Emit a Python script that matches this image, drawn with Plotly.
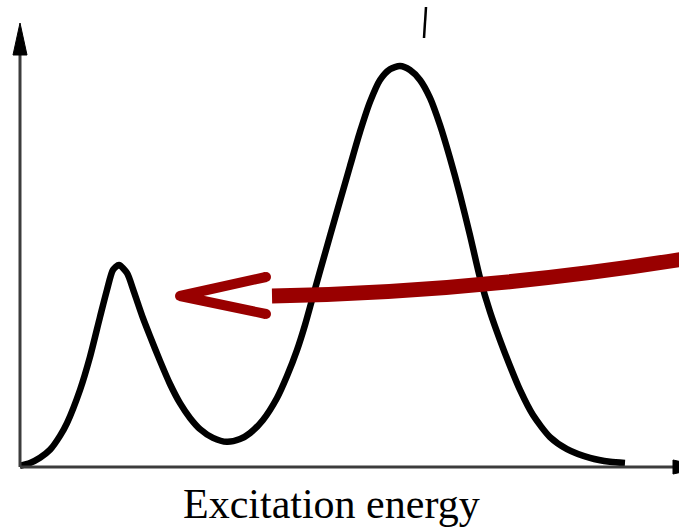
import plotly.graph_objects as go

# Spectrum samples: excitation energy (arb. units) vs. intensity (normalised to the main peak)
energy = [0.00, 0.10, 0.20, 0.30, 0.40, 0.47, 0.60, 0.70, 0.80, 0.87, 0.93, 0.99,
          1.07, 1.13, 1.18, 1.23, 1.30, 1.40, 1.50, 1.60, 1.70, 1.80, 1.93, 2.07,
          2.20, 2.30, 2.43, 2.57, 2.67, 2.77, 2.85, 2.92, 3.00, 3.10, 3.20, 3.30,
          3.40, 3.50, 3.60, 3.70, 3.80, 3.90, 4.00, 4.10, 4.20, 4.30, 4.40, 4.50,
          4.60, 4.70, 4.80, 4.90, 5.00, 5.13, 5.30, 5.47, 5.70, 5.90, 6.05]
intensity = [0.003, 0.010, 0.023, 0.043, 0.078, 0.110, 0.193, 0.276, 0.376, 0.444, 0.494, 0.506,
             0.486, 0.446, 0.409, 0.373, 0.328, 0.266, 0.208, 0.160, 0.123, 0.095, 0.073, 0.063,
             0.070, 0.085, 0.118, 0.173, 0.228, 0.293, 0.356, 0.419, 0.491, 0.579, 0.667, 0.754,
             0.840, 0.915, 0.970, 0.997, 1.005, 0.995, 0.970, 0.925, 0.857, 0.774, 0.682, 0.581,
             0.474, 0.389, 0.318, 0.253, 0.193, 0.130, 0.075, 0.045, 0.023, 0.013, 0.010]

x_label = "Excitation energy"

W, H = 679, 527
X_RANGE = [-0.20, 6.59]
Y_RANGE = [-0.1504, 1.1704]


def px(xp):
    """figure pixel column -> x data value"""
    return X_RANGE[0] + xp / W * (X_RANGE[1] - X_RANGE[0])


def py(yp):
    """figure pixel row (from top) -> y data value"""
    return Y_RANGE[1] - yp / H * (Y_RANGE[1] - Y_RANGE[0])


RED = "#990000"
AXIS = "#3c3c3c"

fig = go.Figure()

fig.add_trace(go.Scatter(
    x=energy, y=intensity, mode="lines",
    line=dict(color="black", width=6.5, shape="spline", smoothing=0.7),
    hoverinfo="skip",
))

# open chevron head of the red pointer
chev_x = [px(266), px(180), px(266)]
chev_y = [py(277), py(296), py(314)]
fig.add_trace(go.Scatter(
    x=chev_x, y=chev_y, mode="lines+markers",
    line=dict(color=RED, width=10),
    marker=dict(color=RED, size=10),
    hoverinfo="skip",
))

shapes = []
# axes
shapes.append(dict(type="line", xref="x", yref="y", x0=0, y0=0, x1=0, y1=py(50),
                   line=dict(color=AXIS, width=3)))
shapes.append(dict(type="line", xref="x", yref="y", x0=0, y0=0, x1=X_RANGE[1], y1=0,
                   line=dict(color=AXIS, width=3)))
# arrowheads
shapes.append(dict(type="path", xref="x", yref="y",
                   path=f"M {px(13)},{py(55)} L {px(20)},{py(23)} L {px(27)},{py(55)} Z",
                   fillcolor="black", line=dict(color="black", width=1)))
shapes.append(dict(type="path", xref="x", yref="y",
                   path=f"M {px(673)},{py(460)} L {px(705)},{py(467)} L {px(673)},{py(474)} Z",
                   fillcolor="black", line=dict(color="black", width=1)))
# thick curved red shaft
shapes.append(dict(type="path", xref="x", yref="y",
                   path=f"M {px(272)},{py(296)} Q {px(480)},{py(292)} {px(690)},{py(258)}",
                   line=dict(color=RED, width=15)))
# small tick stroke at the top
shapes.append(dict(type="line", xref="x", yref="y", x0=px(426), y0=py(7), x1=px(424), y1=py(38),
                   line=dict(color="black", width=2.5)))

fig.update_layout(
    width=W, height=H,
    margin=dict(l=0, r=0, t=0, b=0),
    paper_bgcolor="white", plot_bgcolor="white",
    showlegend=False,
    xaxis=dict(range=X_RANGE, visible=False, fixedrange=True),
    yaxis=dict(range=Y_RANGE, visible=False, fixedrange=True),
    shapes=shapes,
    annotations=[dict(
        text=x_label, xref="x", yref="y", x=px(331), y=py(504),
        xanchor="center", yanchor="middle", showarrow=False,
        font=dict(family="Liberation Serif, Times New Roman, serif", size=42, color="black"),
    )],
)

fig.write_html("out.html")
